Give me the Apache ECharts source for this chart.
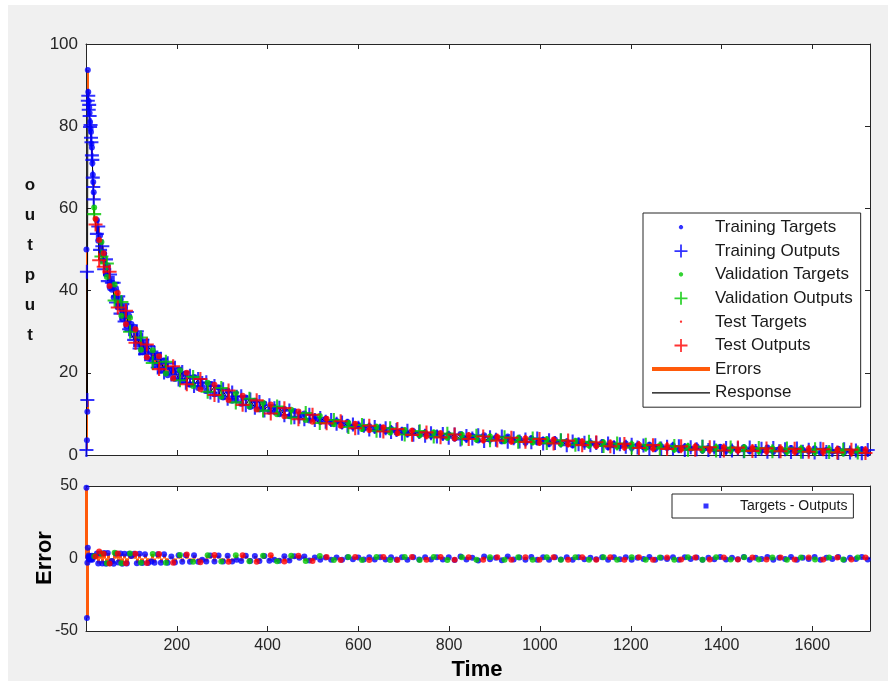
<!DOCTYPE html>
<html><head><meta charset="utf-8">
<script src="https://cdn.jsdelivr.net/npm/echarts@6/dist/echarts.min.js"></script>
<style>
html,body{margin:0;padding:0;background:#fff;}
#bg{position:absolute;left:8px;top:5px;width:880px;height:676px;background:#f0f0f0;}
#chart{position:absolute;left:0;top:0;width:888px;height:681px;}
</style></head><body>
<div id="bg"></div><div id="chart"></div>
<script>
// ---------- data ----------
const timeRange = [0, 1727];
const outputRange = [0, 100];
const errorRange = [-50, 50];

const trainTime = [
  1,2,3,4,5,6,7,8,9,10,11,12,13,14,15,16,17,
  24,27,31,36,40,44,48,53,57,61,66,71,76,80,85,90,95,100,106,112,118,124,130,137,144,151,158,165,172,180,188,196,
  204,212,220,229,238,247,256,265,274,283,292,302,312,322,332,342,352,362,372,382,393,404,415,426,437,448,459,470,481,492,
  504,516,528,540,552,564,576,588,600,612,624,636,648,660,672,684,696,708,721,734,747,760,773,786,799,
  812,825,838,851,864,877,890,903,916,929,942,955,968,981,994,1007,1020,1033,1046,1059,1072,1085,1098,
  1111,1124,1137,1150,1163,1176,1189,1202,1215,1228,1241,1254,1267,1280,1293,1306,1319,1332,1345,1358,1371,1384,1397,1410,
  1423,1436,1449,1462,1475,1488,1501,1514,1527,1540,1553,1566,1579,1592,1605,1618,1631,1644,1657,1670,1683,1696,1709,1722];
const trainTarget = [
  50.0,3.6,10.5,93.7,88.3,86.1,84.6,83.2,81.0,79.4,78.6,75.7,74.8,71.0,68.2,66.4,63.9,
  57.2,52.1,53.4,47.3,49.0,44.0,46.1,40.6,40.2,38.3,40.6,35.9,37.9,33.1,35.8,31.4,33.9,31.9,31.2,26.9,29.2,25.0,27.4,23.4,23.1,21.9,24.2,20.5,23.0,19.4,20.9,18.5,
  20.7,18.0,19.9,17.1,19.0,16.3,16.6,15.6,17.3,14.8,16.5,14.0,15.6,13.2,13.3,12.5,14.0,11.7,13.2,11.1,12.5,10.5,10.6,9.9,11.2,9.4,10.7,9.9,10.1,8.4,
  9.2,8.1,8.8,7.7,8.3,7.1,8.0,6.8,7.3,6.4,7.0,6.1,6.7,5.8,6.4,5.4,6.0,5.1,5.8,4.9,5.5,4.6,5.3,4.4,5.0,
  4.0,5.1,3.9,4.6,3.5,4.8,3.7,4.3,3.3,4.5,3.4,4.0,3.0,4.1,3.1,3.7,2.7,3.8,2.8,3.3,2.4,3.4,2.5,
  3.0,2.3,3.1,1.9,2.7,2.1,2.8,1.7,2.4,1.9,2.5,1.5,2.1,1.7,2.3,1.3,2.0,1.5,2.1,1.1,1.7,1.3,2.0,1.0,
  1.7,1.1,1.9,0.9,1.5,1.1,1.8,0.8,1.4,1.0,1.7,0.7,1.3,0.9,1.6,0.6,1.2,0.8,1.5,0.6,1.1,0.7,1.4,0.5];
const trainOutput = [
  1.2,44.6,13.4,86.2,87.4,84.0,85.2,82.5,79.8,80.3,77.2,76.1,72.9,71.8,67.5,65.2,62.2,
  53.8,55.6,49.9,50.8,45.2,47.6,42.3,43.9,41.9,41.9,37.1,38.6,34.4,36.7,32.5,34.8,30.6,30.2,28.0,30.1,25.9,28.1,24.5,26.5,25.2,24.8,21.3,23.4,20.1,22.3,19.6,21.2,
  18.4,20.2,17.6,19.3,16.8,18.5,17.5,17.7,15.2,16.8,14.4,16.0,13.7,15.2,14.2,14.3,12.1,13.5,11.5,12.9,10.8,12.1,11.4,11.5,9.7,10.8,9.2,9.3,8.7,9.8,
  8.5,9.0,8.1,8.5,7.6,7.9,7.1,7.4,6.6,7.1,6.2,6.8,5.9,6.5,5.6,6.1,5.2,5.9,4.9,5.6,4.7,5.3,4.5,5.1,4.2,
  5.0,3.8,4.6,4.0,4.8,3.4,4.3,3.7,4.5,3.2,4.1,3.3,3.8,3.1,4.0,2.8,3.6,2.9,3.5,2.4,3.3,2.6,3.0,
  2.4,2.9,2.2,2.8,1.9,2.6,2.0,2.5,1.8,2.3,1.5,2.4,1.6,2.0,1.5,2.1,1.2,1.9,1.4,2.0,1.2,1.8,1.0,1.7,
  1.1,1.6,0.9,1.8,1.0,1.5,0.8,1.7,0.9,1.4,0.7,1.6,0.8,1.3,0.6,1.5,0.7,1.2,0.5,1.4,0.6,1.1,0.4,1.2];

const valTime = [18,34,46,63,78,97,121,147,176,207,236,268,298,330,360,390,421,452,484,515,546,578,608,640,670,702,735,766,796,828,860,890,922,952,984,1015,1046,1078,1108,1140,1170,1202,1233,1264,1296,1326,1358,1388,1420,1450,1482,1512,1544,1575,1606,1637,1668,1700];
const valTarget = [60.2,51.8,43.3,41.5,33.9,33.4,25.6,25.5,19.8,20.6,16.8,17.6,14.2,15.0,11.8,12.7,9.9,11.0,8.5,9.5,7.5,7.8,6.3,6.9,5.5,6.1,4.8,5.5,4.2,4.9,3.8,4.5,3.4,4.1,3.1,3.8,2.7,3.4,2.3,3.0,2.0,2.6,1.7,2.3,1.4,2.1,1.2,1.9,1.1,1.8,1.0,1.6,0.8,1.5,0.7,1.4,0.6,1.3];
const valOutput = [58.6,48.3,46.6,37.6,37.2,30.0,28.6,22.4,22.7,18.2,19.0,15.4,16.3,12.8,13.7,10.8,11.8,9.1,10.2,7.8,8.5,6.8,7.3,5.9,6.5,5.0,5.8,4.5,5.2,4.0,4.7,3.6,4.3,3.2,4.0,2.9,3.6,2.5,3.2,2.2,2.8,1.8,2.5,1.6,2.2,1.3,2.0,1.1,1.8,1.0,1.7,0.9,1.6,0.8,1.4,0.7,1.3,0.6];

const testTime = [21,29,39,52,70,88,109,134,161,192,222,252,283,314,345,376,407,437,468,499,530,561,593,624,655,686,718,750,781,812,843,875,906,937,968,999,1030,1062,1093,1124,1155,1186,1218,1249,1280,1311,1342,1374,1405,1436,1468,1499,1530,1561,1592,1624,1655,1686,1717];
const testTarget = [57.5,52.3,49.1,41.1,39.4,31.8,30.6,23.8,24.0,18.6,20.0,16.0,17.1,13.4,14.4,11.1,12.3,9.4,10.6,8.1,8.8,7.1,7.6,6.1,6.7,5.3,5.9,4.6,5.3,4.1,4.8,3.6,4.4,3.3,4.0,3.0,3.7,2.6,3.3,2.2,2.9,1.9,2.5,1.6,2.2,1.4,2.0,1.2,1.8,1.1,1.7,0.9,1.6,0.8,1.5,0.7,1.3,0.6,1.2];
const testOutput = [56.1,47.4,45.8,44.6,35.9,35.1,27.3,26.9,20.9,21.6,17.2,18.5,14.6,15.7,12.2,13.3,10.1,11.4,8.7,9.8,7.7,8.2,6.5,7.1,5.7,6.3,4.9,5.5,4.3,5.0,3.9,4.5,3.5,4.2,3.2,3.9,2.8,3.5,2.4,3.1,2.1,2.7,1.7,2.4,1.5,2.1,1.3,1.9,1.1,1.8,1.0,1.6,0.9,1.5,0.8,1.4,0.6,1.3,0.5];

// ---------- styling ----------
const FONT = 'Liberation Sans, Arial, sans-serif';
const BLUE = '#0000ff', GREEN = '#00c800', RED = '#ff0000', ORANGE = '#ff5a0a', AX = '#262626';
const PLUS = 'path://M4.25,0H5.75V4.25H10V5.75H5.75V10H4.25V5.75H0V4.25H4.25Z';
// legend icons: 58 x 13 boxes (two invisible corner specks fix the box)
const BOX = 'M0,0L0.01,0L0,0.01ZM58,13L57.99,13L58,12.99Z';
const DOT_L = 'path://' + BOX + 'M28.2,4.1L29.8,4.1L31.1,5.4L31.1,7.0L29.8,8.3L28.2,8.3L26.9,7.0L26.9,5.4Z';
const DOT_S = 'path://' + BOX + 'M28.4,5.2L29.6,5.2L30.1,5.8L30.1,6.8L29.6,7.4L28.4,7.4L27.9,6.8L27.9,5.8Z';
const PLUS_L = 'path://' + BOX + 'M28.1,0H29.9V5.6H35.5V7.4H29.9V13H28.1V7.4H22.5V5.6H28.1Z';
const ERR_L = 'path://' + BOX + 'M0,4.5H58V8.5H0Z';
const RESP_L = 'path://' + BOX + 'M0,6H58V7.2H0Z';
const SQ_L = 'path://M0,0L0.01,0L0,0.01ZM58,12L57.99,12L58,11.99ZM26.5,3.5H31.5V8.5H26.5Z';

function pts(t, v) { return t.map((x, i) => [x, v[i]]); }
function errs(t, a, b) { return t.map((x, i) => [x, +(a[i] - b[i]).toFixed(2)]); }
function segs(t, a, b) { return t.map((x, i) => ({ coords: [[x, a[i]], [x, b[i]]] })); }
function stems(t, a, b) { return t.map((x, i) => ({ coords: [[x, 0], [x, +(a[i] - b[i]).toFixed(2)]] })); }

const response = [].concat(pts(trainTime, trainOutput), pts(valTime, valOutput), pts(testTime, testOutput)).sort((p, q) => p[0] - q[0]);

const axisLine = { show: true, onZero: false, lineStyle: { color: AX, width: 1 } };
const tick = { show: true, inside: true, length: 5, lineStyle: { color: AX, width: 1 } };
function xAx(grid, pos, labels) {
  return {
    type: 'value', gridIndex: grid, position: pos, min: timeRange[0], max: timeRange[1], interval: 200,
    axisLine: axisLine, axisTick: tick, splitLine: { show: false },
    axisLabel: labels ? { show: true, showMinLabel: false, showMaxLabel: false, fontSize: 16, color: AX, margin: 7, fontFamily: FONT, formatter: v => String(v) } : { show: false }
  };
}
function yAx(grid, pos, range, interval, labels, fs) {
  return {
    type: 'value', gridIndex: grid, position: pos, min: range[0], max: range[1], interval: interval,
    axisLine: axisLine, axisTick: tick, splitLine: { show: false },
    axisLabel: labels ? { show: true, fontSize: fs, color: AX, margin: 8, fontFamily: FONT, formatter: v => String(v) } : { show: false }
  };
}

const chart = echarts.init(document.getElementById('chart'), null, { renderer: 'canvas' });
const legendText = { fontSize: 17, color: '#1a1a1a', fontFamily: FONT, lineHeight: 17 };
chart.setOption({
  animation: false,
  grid: [
    { left: 86, top: 44, right: 18, height: 411, show: true, backgroundColor: '#fff', borderWidth: 0 },
    { left: 86, top: 486, right: 18, height: 145, show: true, backgroundColor: '#fff', borderWidth: 0 }
  ],
  xAxis: [xAx(0, 'bottom', false), xAx(0, 'top', false), xAx(1, 'bottom', true), xAx(1, 'top', false)],
  yAxis: [yAx(0, 'left', outputRange, 20, true, 17), yAx(0, 'right', outputRange, 20, false),
          yAx(1, 'left', errorRange, 50, true, 16), yAx(1, 'right', errorRange, 50, false)],
  legend: [
    {
      orient: 'vertical', left: 643, top: 213, padding: [6, 8, 6, 9], itemWidth: 58, itemHeight: 13, itemGap: 6.6,
      backgroundColor: '#fff', borderColor: AX, borderWidth: 1, borderRadius: 0, symbolKeepAspect: true,
      selectedMode: false, textStyle: legendText,
      data: [
        { name: 'Training Targets', icon: DOT_L, itemStyle: { color: BLUE, borderWidth: 0 } },
        { name: 'Training Outputs', icon: PLUS_L, itemStyle: { color: BLUE, borderWidth: 0 } },
        { name: 'Validation Targets', icon: DOT_L, itemStyle: { color: GREEN, borderWidth: 0 } },
        { name: 'Validation Outputs', icon: PLUS_L, itemStyle: { color: GREEN, borderWidth: 0 } },
        { name: 'Test Targets', icon: DOT_S, itemStyle: { color: RED, borderWidth: 0 } },
        { name: 'Test Outputs', icon: PLUS_L, itemStyle: { color: RED, borderWidth: 0 } },
        { name: 'Errors', icon: ERR_L, itemStyle: { color: ORANGE, borderWidth: 0 } },
        { name: 'Response', icon: RESP_L, itemStyle: { color: '#000', borderWidth: 0 } }
      ]
    },
    {
      orient: 'horizontal', left: 672, top: 494, padding: [5, 6, 5, 5], itemWidth: 58, itemHeight: 12,
      backgroundColor: '#fff', borderColor: AX, borderWidth: 1, borderRadius: 0, symbolKeepAspect: true,
      selectedMode: false, textStyle: { fontSize: 14, color: '#1a1a1a', fontFamily: FONT, lineHeight: 14 },
      data: [{ name: 'Targets - Outputs', icon: SQ_L, itemStyle: { color: BLUE, borderWidth: 0 } }]
    }
  ],
  graphic: [
    { type: 'text', x: 30, y: 170, style: { text: 'o\nu\nt\np\nu\nt', font: 'bold 17px ' + FONT, lineHeight: 30, fill: '#141414', align: 'center', textAlign: 'center', verticalAlign: 'top', textVerticalAlign: 'top' } },
    { type: 'text', x: 45, y: 558, rotation: Math.PI / 2, style: { text: 'Error', font: 'bold 22px ' + FONT, fill: '#000', align: 'center', textAlign: 'center', verticalAlign: 'middle', textVerticalAlign: 'middle' } },
    { type: 'text', x: 477, y: 670, style: { text: 'Time', font: 'bold 22px ' + FONT, fill: '#000', align: 'center', textAlign: 'center', verticalAlign: 'middle', textVerticalAlign: 'middle' } }
  ],
  series: [
    // top: errors and response
    { name: 'Errors', type: 'lines', coordinateSystem: 'cartesian2d', xAxisIndex: 0, yAxisIndex: 0, z: 1,
      lineStyle: { color: ORANGE, width: 2, opacity: 1 },
      data: [].concat(segs(trainTime, trainTarget, trainOutput), segs(valTime, valTarget, valOutput), segs(testTime, testTarget, testOutput)) },
    { name: 'Response', type: 'line', xAxisIndex: 0, yAxisIndex: 0, z: 2, showSymbol: false, symbol: 'none',
      lineStyle: { color: '#000', width: 1 }, itemStyle: { color: '#000' }, data: response },
    { name: 'Training Targets', type: 'scatter', xAxisIndex: 0, yAxisIndex: 0, z: 3, symbol: 'circle', symbolSize: 6, itemStyle: { color: BLUE }, data: pts(trainTime, trainTarget) },
    { name: 'Training Outputs', type: 'scatter', xAxisIndex: 0, yAxisIndex: 0, z: 3, symbol: PLUS, symbolSize: 14, itemStyle: { color: BLUE }, data: pts(trainTime, trainOutput) },
    { name: 'Validation Targets', type: 'scatter', xAxisIndex: 0, yAxisIndex: 0, z: 4, symbol: 'circle', symbolSize: 6, itemStyle: { color: GREEN }, data: pts(valTime, valTarget) },
    { name: 'Validation Outputs', type: 'scatter', xAxisIndex: 0, yAxisIndex: 0, z: 4, symbol: PLUS, symbolSize: 14, itemStyle: { color: GREEN }, data: pts(valTime, valOutput) },
    { name: 'Test Targets', type: 'scatter', xAxisIndex: 0, yAxisIndex: 0, z: 5, symbol: 'circle', symbolSize: 6, itemStyle: { color: RED }, data: pts(testTime, testTarget) },
    { name: 'Test Outputs', type: 'scatter', xAxisIndex: 0, yAxisIndex: 0, z: 5, symbol: PLUS, symbolSize: 14, itemStyle: { color: RED }, data: pts(testTime, testOutput) },
    // bottom: error stems and error points
    { name: 'Errors', type: 'lines', coordinateSystem: 'cartesian2d', xAxisIndex: 2, yAxisIndex: 2, z: 1,
      lineStyle: { color: ORANGE, width: 3, opacity: 1 },
      data: [].concat(stems(trainTime, trainTarget, trainOutput), stems(valTime, valTarget, valOutput), stems(testTime, testTarget, testOutput)) },
    { name: 'Targets - Outputs', type: 'scatter', xAxisIndex: 2, yAxisIndex: 2, z: 3, symbol: 'circle', symbolSize: 6, itemStyle: { color: BLUE }, data: errs(trainTime, trainTarget, trainOutput) },
    { name: 'Validation Errors', type: 'scatter', xAxisIndex: 2, yAxisIndex: 2, z: 4, symbol: 'circle', symbolSize: 6, itemStyle: { color: GREEN }, data: errs(valTime, valTarget, valOutput) },
    { name: 'Test Errors', type: 'scatter', xAxisIndex: 2, yAxisIndex: 2, z: 5, symbol: 'circle', symbolSize: 6, itemStyle: { color: RED }, data: errs(testTime, testTarget, testOutput) }
  ]
});
</script>
</body></html>
